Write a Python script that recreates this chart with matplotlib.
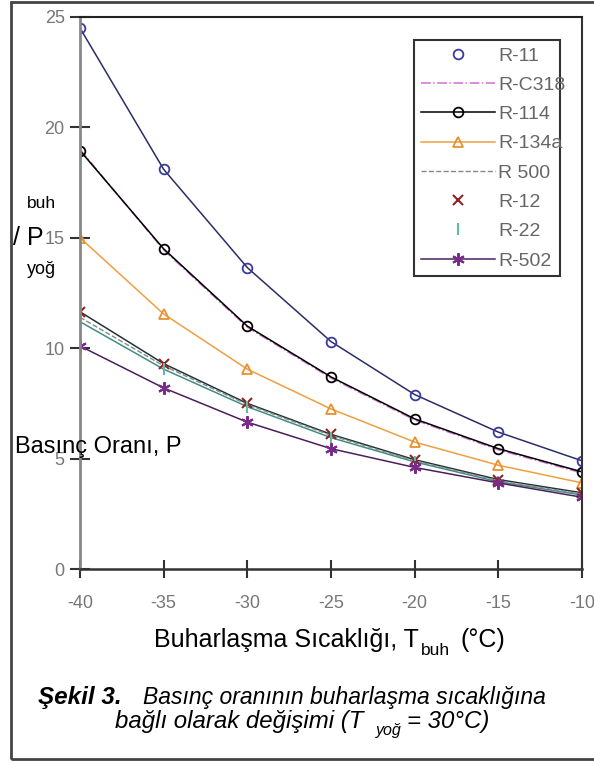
import matplotlib
matplotlib.use("Agg")
import matplotlib.pyplot as plt
from matplotlib.patches import Rectangle

# Veriler: buharlaşma sıcaklığına göre basınç oranı (T_yoğ = 30 °C)
sicaklik = [-40, -35, -30, -25, -20, -15, -10]
x_etiketler = ["-40", "-35", "-30", "-25", "-20", "-15", "-10"]
y_degerler = [0, 5, 10, 15, 20, 25]

r11 = [24.5, 18.1, 13.65, 10.3, 7.9, 6.2, 4.9]
rc318 = [19.0, 14.45, 10.95, 8.65, 6.75, 5.4, 4.35]
r114 = [18.95, 14.5, 11.0, 8.7, 6.8, 5.45, 4.4]
r134a = [15.0, 11.55, 9.05, 7.25, 5.75, 4.7, 3.9]
r500 = [11.4, 9.2, 7.45, 6.05, 4.9, 4.0, 3.4]
r12 = [11.65, 9.3, 7.5, 6.1, 4.95, 4.05, 3.45]
r22 = [11.2, 9.05, 7.35, 5.95, 4.85, 3.95, 3.35]
r502 = [10.1, 8.2, 6.65, 5.45, 4.6, 3.9, 3.25]

plt.rcParams["font.family"] = ["Liberation Sans", "DejaVu Sans"]

W, H = 594, 762
fig = plt.figure(figsize=(W / 100, H / 100), dpi=100)
ax = fig.add_axes([80 / W, 1 - 569 / H, 502 / W, 552 / H])


def px(x, y):
    # piksel -> figür koordinatı
    return x / W, 1 - y / H


# Eğri çizgileri (lejantta yok)
ax.plot(sicaklik, r11, color="#2c2c66", lw=1.1)
ax.plot(sicaklik, r12, color="#223333", lw=1.1)
ax.plot(sicaklik, r22, color="#3f8f85", lw=1.1)

# Seriler
ax.plot(sicaklik, r11, ls="none", marker="o", ms=7, mfc="none", mec="#3a3aa0", mew=1.3, label="R-11")
ax.plot(sicaklik, rc318, color="#d070d0", ls="-.", lw=1.1, label="R-C318")
ax.plot(sicaklik, r114, color="black", lw=1.1, marker="o", ms=7, mfc="none", mec="black", mew=1.3, label="R-114")
ax.plot(sicaklik, r134a, color="#eea040", lw=1.1, marker="^", ms=7, mfc="none", mec="#e89030", mew=1.3, label="R-134a")
ax.plot(sicaklik, r500, color="#888888", ls="--", lw=1.0, label="R 500")
ax.plot(sicaklik, r12, ls="none", marker="x", ms=7, mec="#8b2525", mew=1.5, label="R-12")
ax.plot(sicaklik, r22, ls="none", marker="|", ms=8, mec="#66b8a8", mew=1.5, label="R-22")
ax.plot(sicaklik, r502, color="#4a1f5a", lw=1.1, marker=(6, 2, 0), ms=9, mec="#7a2a8a", mew=1.5, label="R-502")

ax.set_xlim(-40, -10)
ax.set_ylim(0, 25)
ax.set_xticks(sicaklik)
ax.set_xticklabels(x_etiketler)
ax.set_yticks(y_degerler)
ax.tick_params(axis="both", direction="inout", colors="#333333", labelcolor="#777777", labelsize=13)
ax.tick_params(axis="x", length=13, width=1.5, pad=12)
ax.tick_params(axis="y", length=14, width=1.5, pad=4)

ax.spines["left"].set_color("#888888")
ax.spines["left"].set_linewidth(2)
ax.spines["bottom"].set_color("#333333")
ax.spines["bottom"].set_linewidth(1.8)
ax.spines["top"].set_color("#222222")
ax.spines["top"].set_linewidth(1.5)
ax.spines["right"].set_color("#333333")
ax.spines["right"].set_linewidth(1.5)

leg = ax.legend(loc="upper left", bbox_to_anchor=(0.665, 0.507, 0.291, 0.451), mode="expand",
                fontsize=14, labelspacing=0.6, handlelength=3.8, handletextpad=0.2,
                borderpad=0.35, borderaxespad=0, fancybox=False, framealpha=1,
                edgecolor="#333333", labelcolor="#666666")
leg.get_frame().set_linewidth(1.5)

# Y ekseni etiketi (parçalı)
fig.text(*px(27, 204), "buh", fontsize=12.5, va="center", ha="left")
fig.text(*px(13, 238), "/ P", fontsize=18, va="center", ha="left")
fig.text(*px(27, 270), "yoğ", fontsize=13, va="center", ha="left")
fig.text(*px(15, 447), "Basınç Oranı, P", fontsize=17, va="center", ha="left")

# X ekseni etiketi
fig.text(*px(154, 647), "Buharlaşma Sıcaklığı, T", fontsize=18, va="baseline", ha="left")
fig.text(*px(421, 655), "buh", fontsize=12.5, va="baseline", ha="left")
fig.text(*px(461, 647), "(°C)", fontsize=18, va="baseline", ha="left")

# Şekil yazısı
fig.text(*px(38, 704), "Şekil 3.", fontsize=17.5, style="italic", weight="bold", va="baseline", ha="left")
fig.text(*px(143, 704), "Basınç oranının buharlaşma sıcaklığına", fontsize=16.5, style="italic",
         va="baseline", ha="left")
fig.text(*px(115, 728), "bağlı olarak değişimi (T", fontsize=17.3, style="italic", va="baseline", ha="left")
fig.text(*px(376, 735), "yoğ", fontsize=11.5, style="italic", va="baseline", ha="left")
fig.text(*px(407, 728), "= 30°C)", fontsize=17.3, style="italic", va="baseline", ha="left")

# Dış çerçeve
fig.patches.append(Rectangle(px(11, 759), 1.0, 757 / H, transform=fig.transFigure,
                             fill=False, edgecolor="#444444", lw=2))

fig.savefig("out.png", dpi=100)
